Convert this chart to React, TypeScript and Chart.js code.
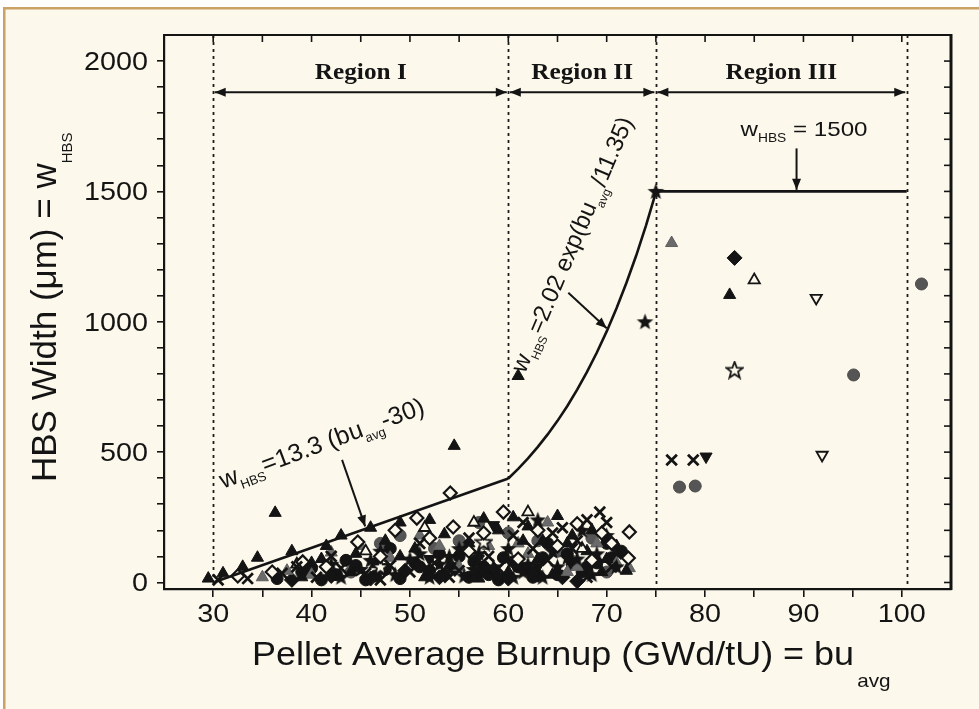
import React, { useEffect, useRef } from "react";
import { Chart, registerables } from "chart.js";
Chart.register(...registerables);

// ---------- axis ticks ----------
const xTickLabels = [30, 40, 50, 60, 70, 80, 90, 100];
const xMinorTicks = [30, 35, 40, 45, 50, 55, 60, 65, 70, 75, 80, 85, 90, 95, 100];
const yTickLabels = [0, 500, 1000, 1500, 2000];
const yMinorTicks = [0, 100, 200, 300, 400, 500, 600, 700, 800, 900, 1000, 1100, 1200, 1300, 1400, 1500, 1600, 1700, 1800, 1900, 2000];

// ---------- regions ----------
const regionBounds = [30, 60, 75, 100.5];
const regionNames = ["Region I", "Region II", "Region III"];

// ---------- model curve ----------
const linearModel: [number, number][] = [[30, 0], [60, 399]];
const expModel: [number, number][] = [
  [60, 399], [61, 436], [62, 476], [63, 520], [64, 568], [65, 620], [66, 677], [67, 740],
  [68, 808], [69, 882], [70, 963], [71, 1052], [72, 1149], [73, 1254], [74, 1370], [75, 1496],
];
const plateauModel: [number, number][] = [[75, 1500], [100.5, 1500]];

// ---------- measured data (several symbol families) ----------
const filledTriangles: [number, number][] = [
  [29.5, 15], [31, 35], [33, 60], [34.5, 95], [36.3, 267], [38, 120], [40, 75], [41.5, 140],
  [43, 180], [44.5, 110], [46, 210], [47.5, 160], [49, 230], [50.5, 130], [52, 240], [53.5, 185],
  [54.5, 524], [56, 150], [57.5, 245], [59, 200], [60.5, 250], [61, 792], [62, 215], [63.5, 160],
  [65, 255], [66.5, 180], [68, 120], [70, 90], [72, 45], [82.5, 1103],
  [39, 20], [41, 90], [44, 40], [46.5, 70], [49, 100], [51.5, 20], [54, 65], [57, 15],
  [60, 40], [61.5, 160], [63, 90], [64.5, 30], [66, 150], [68.5, 200], [69.5, 40], [71, 140],
];
const grayTriangles: [number, number][] = [
  [35, 20], [37.5, 45], [40, 30], [45, 140], [48, 95], [51, 180], [55, 60], [58, 140],
  [62, 110], [64, 230], [66, 40], [69, 150], [71, 75], [72.3, 55], [76.6, 1302],
  [42, 115], [53, 140], [61, 150], [67, 60],
];
const openDiamonds: [number, number][] = [
  [32.5, 25], [36, 40], [39.1, 79], [41.5, 60], [44.7, 155], [47, 100], [48.5, 200], [50.7, 247],
  [52, 170], [54.1, 343], [54.4, 213], [56, 120], [57.5, 190], [59.5, 270], [61, 90], [63, 200],
  [65, 140], [67, 225], [68.5, 85], [69.5, 190], [70.5, 150], [72.3, 194], [72.2, 94],
];
const filledDiamonds: [number, number][] = [
  [38, 10], [42, 25], [46, 15], [49.5, 45], [53, 20], [57, 35], [60, 15], [63, 30],
  [65.5, 20], [67, 5], [83, 1245],
];
const crosses: [number, number][] = [
  [30.5, 10], [33.5, 15], [37, 35], [40.5, 20], [43, 55], [45.5, 35], [48, 65], [50, 40],
  [52.5, 75], [55, 45], [57, 85], [59, 55], [61.5, 230], [62.5, 130], [64, 85], [65.5, 210],
  [67, 160], [68, 240], [69.3, 270], [70.5, 60], [76.6, 470], [78.8, 470],
  [38.5, 60], [42, 100], [47, 10], [51, 150], [54, 20], [56, 170], [58, 100], [60.5, 180],
  [62.5, 50], [64.5, 190], [66.5, 130], [68, 20], [70, 230], [71, 110],
];
const filledStars: [number, number][] = [
  [42, 70], [45, 50], [47, 120], [50, 90], [52, 20], [54, 100], [55.5, 25], [57, 110],
  [58.5, 60], [60, 130], [61.5, 40], [63, 240], [64.5, 120], [66, 95], [67.5, 200], [69, 110],
  [73.9, 1000], [75, 1500],
  [43, 20], [46, 85], [48.5, 30], [51, 110], [53, 70], [55, 130], [56.5, 50], [59, 30],
  [60.5, 20], [62, 70], [63.5, 20], [65, 60], [67, 90], [68.5, 30], [70, 180], [71, 60],
];
const filledCircles: [number, number][] = [
  [36.5, 15], [39, 40], [41, 10], [43.5, 85], [46.5, 25], [48, 130], [51, 60], [53, 110],
  [54.5, 55], [56.5, 80], [58, 30], [59.5, 95], [61, 60], [62.5, 20], [64, 150], [66.5, 70],
  [68, 60], [70, 150], [71.5, 120],
  [40, 55], [42.5, 30], [44.5, 65], [45.5, 10], [47.5, 50], [49, 15], [50.5, 75], [52, 45],
  [53.5, 30], [55, 100], [56, 20], [57.5, 60], [59, 10], [60.5, 80], [62, 50], [63.5, 95],
  [65, 30], [66, 110], [67.5, 40], [69, 75], [70.5, 95],
];
const grayCircles: [number, number][] = [
  [44, 40], [49, 180], [55, 160], [60, 190], [65, 120], [70, 40],
  [47, 150], [52.5, 130], [57, 230], [63, 160], [68.5, 170],
  [77.4, 366], [79, 370], [95.1, 796], [102, 1145],
];
const openTriangles: [number, number][] = [
  [38.5, 70], [45.5, 120], [51.5, 210], [56.5, 230], [62, 270], [67.5, 130], [85, 1160],
];
const openInvTriangles: [number, number][] = [[91.3, 1091], [91.9, 489]];
const filledInvTriangles: [number, number][] = [[52, 90], [58.5, 220], [63, 60], [80.1, 483]];
const openStars: [number, number][] = [[47, 60], [57.5, 155], [83, 815]];

// ---------- annotation anchors (data units) ----------
const arrowRowY = 1880;
const regionLabelY = 1931;
const linearLabelAt: [number, number] = [31.0, 360];
const linearArrow: [number, number, number, number] = [43.1, 470, 45.45, 215];
const expLabelAt: [number, number] = [61.7, 800];
const expArrow: [number, number, number, number] = [66.1, 1111, 70.0, 975];
const plateauLabelAt: [number, number] = [83.6, 1713];
const plateauArrow: [number, number, number, number] = [89.3, 1665, 89.3, 1506];

const CREAM = "#FCF9EC";
const INK = "#141414";
const SANS = '"Liberation Sans", Arial, sans-serif';
const SERIF = '"Liberation Serif", "Times New Roman", serif';

type Part = { t: string; size: number; dy?: number; weight?: string; family?: string };

function drawRich(ctx: CanvasRenderingContext2D, x: number, y: number, angle: number, parts: Part[], sx = 1, align: "left" | "center" | "right" = "left") {
  ctx.save();
  ctx.translate(x, y);
  ctx.rotate(angle);
  ctx.scale(sx, 1);
  ctx.textBaseline = "alphabetic";
  ctx.textAlign = "left";
  let total = 0;
  for (const p of parts) {
    ctx.font = `${p.weight || "normal"} ${p.size}px ${p.family || SANS}`;
    total += ctx.measureText(p.t).width;
  }
  let cx = align === "left" ? 0 : align === "center" ? -total / 2 : -total;
  for (const p of parts) {
    ctx.font = `${p.weight || "normal"} ${p.size}px ${p.family || SANS}`;
    ctx.fillText(p.t, cx, p.dy || 0);
    cx += ctx.measureText(p.t).width;
  }
  ctx.restore();
}

function arrowHead(ctx: CanvasRenderingContext2D, x1: number, y1: number, x2: number, y2: number, len = 11, w = 4.5) {
  const a = Math.atan2(y2 - y1, x2 - x1);
  ctx.beginPath();
  ctx.moveTo(x2, y2);
  ctx.lineTo(x2 - len * Math.cos(a) + w * Math.sin(a), y2 - len * Math.sin(a) - w * Math.cos(a));
  ctx.lineTo(x2 - len * Math.cos(a) - w * Math.sin(a), y2 - len * Math.sin(a) + w * Math.cos(a));
  ctx.closePath();
  ctx.fill();
}

function arrow(ctx: CanvasRenderingContext2D, x1: number, y1: number, x2: number, y2: number, both = false) {
  ctx.beginPath();
  ctx.moveTo(x1, y1);
  ctx.lineTo(x2, y2);
  ctx.stroke();
  arrowHead(ctx, x1, y1, x2, y2);
  if (both) arrowHead(ctx, x2, y2, x1, y1);
}

function makeStar(filled: boolean, color: string, size = 18): HTMLCanvasElement {
  const c = document.createElement("canvas");
  c.width = size;
  c.height = size;
  const g = c.getContext("2d")!;
  const R = size * 0.46;
  const r = R * 0.42;
  g.beginPath();
  for (let i = 0; i < 10; i++) {
    const ang = -Math.PI / 2 + (i * Math.PI) / 5;
    const rad = i % 2 ? r : R;
    const px = size / 2 + rad * Math.cos(ang);
    const py = size / 2 + 0.5 + rad * Math.sin(ang);
    if (i === 0) g.moveTo(px, py);
    else g.lineTo(px, py);
  }
  g.closePath();
  if (filled) {
    g.fillStyle = color;
    g.fill();
  } else {
    g.fillStyle = CREAM;
    g.fill();
    g.strokeStyle = color;
    g.lineWidth = 1.8;
    g.stroke();
  }
  return c;
}

const toXY = (pts: [number, number][]) => pts.map(([x, y]) => ({ x, y }));

const decorPlugin = {
  id: "decor",
  beforeDraw(chart: any) {
    const ctx: CanvasRenderingContext2D = chart.ctx;
    const W = chart.width, H = chart.height;
    ctx.save();
    ctx.fillStyle = "#FFFFFF";
    ctx.fillRect(0, 0, W, H);
    ctx.fillStyle = CREAM;
    ctx.fillRect(5, 9, W - 5, H - 9);
    ctx.fillStyle = "#C9A264";
    ctx.fillRect(3, 7, W - 3, 2.5);
    ctx.fillRect(3, 7, 2.5, H - 7);
    ctx.restore();
  },
  beforeDatasetsDraw(chart: any) {
    const ctx: CanvasRenderingContext2D = chart.ctx;
    const xs = chart.scales.x;
    const { top, bottom } = chart.chartArea;
    ctx.save();
    ctx.strokeStyle = "#1c1c1c";
    ctx.lineWidth = 1.8;
    ctx.setLineDash([3, 4]);
    for (const b of regionBounds) {
      const px = Math.round(xs.getPixelForValue(b)) + 0.5;
      ctx.beginPath();
      ctx.moveTo(px, top);
      ctx.lineTo(px, bottom);
      ctx.stroke();
    }
    ctx.restore();
  },
  afterDatasetsDraw(chart: any) {
    const ctx: CanvasRenderingContext2D = chart.ctx;
    const xs = chart.scales.x, ys = chart.scales.y;
    const { left, right, top, bottom } = chart.chartArea;
    const X = (v: number) => xs.getPixelForValue(v);
    const Y = (v: number) => ys.getPixelForValue(v);
    ctx.save();
    ctx.strokeStyle = INK;
    ctx.fillStyle = INK;

    // frame top and right with inward ticks
    ctx.lineWidth = 2.2;
    ctx.beginPath();
    ctx.moveTo(left - 1, top);
    ctx.lineTo(right, top);
    ctx.stroke();
    ctx.lineWidth = 3;
    ctx.beginPath();
    ctx.moveTo(right, top - 1);
    ctx.lineTo(right, bottom + 1);
    ctx.stroke();
    ctx.lineWidth = 1.6;
    for (const v of xMinorTicks) {
      const px = X(v);
      ctx.beginPath();
      ctx.moveTo(px, top);
      ctx.lineTo(px, top + 7);
      ctx.stroke();
    }
    for (const v of yMinorTicks) {
      const py = Y(v);
      ctx.beginPath();
      ctx.moveTo(right, py);
      ctx.lineTo(right - 7, py);
      ctx.stroke();
    }

    // region arrows + labels
    ctx.lineWidth = 2;
    const ay = Y(arrowRowY);
    for (let i = 0; i < regionNames.length; i++) {
      const a = X(regionBounds[i]) + 1.5, b = X(regionBounds[i + 1]) - 1.5;
      arrow(ctx, a, ay, b, ay, true);
      drawRich(ctx, (X(regionBounds[i]) + X(regionBounds[i + 1])) / 2, Y(regionLabelY), 0,
        [{ t: regionNames[i], size: 23, weight: "bold", family: SERIF }], 1.1, "center");
    }

    // formula annotations
    ctx.lineWidth = 2;
    arrow(ctx, X(linearArrow[0]), Y(linearArrow[1]), X(linearArrow[2]), Y(linearArrow[3]));
    arrow(ctx, X(expArrow[0]), Y(expArrow[1]), X(expArrow[2]), Y(expArrow[3]));
    arrow(ctx, X(plateauArrow[0]), Y(plateauArrow[1]), X(plateauArrow[2]), Y(plateauArrow[3]));

    drawRich(ctx, X(linearLabelAt[0]), Y(linearLabelAt[1]), (-20.4 * Math.PI) / 180, [
      { t: "w", size: 25 }, { t: "HBS", size: 13, dy: 7 }, { t: "=13.3 (bu", size: 25 },
      { t: "avg", size: 13, dy: 7 }, { t: "-30)", size: 25 },
    ]);
    drawRich(ctx, X(expLabelAt[0]), Y(expLabelAt[1]), (-66.8 * Math.PI) / 180, [
      { t: "w", size: 24 }, { t: "HBS", size: 12, dy: 7 }, { t: "=2.02 exp(bu", size: 24 },
      { t: "avg", size: 12, dy: 7 }, { t: "/11.35)", size: 24 },
    ]);
    drawRich(ctx, X(plateauLabelAt[0]), Y(plateauLabelAt[1]), 0, [
      { t: "w", size: 21 }, { t: "HBS", size: 12, dy: 6 }, { t: " = 1500", size: 21 },
    ], 1.15);

    // tick labels
    for (const v of yTickLabels) {
      drawRich(ctx, left - 16, Y(v) + 9, 0, [{ t: String(v), size: 25 }], 1.15, "right");
    }
    for (const v of xTickLabels) {
      drawRich(ctx, X(v), bottom + 33, 0, [{ t: String(v), size: 25 }], 1.15, "center");
    }

    // axis titles
    drawRich(ctx, 56, 482, -Math.PI / 2, [
      { t: "HBS Width (\u03bcm) = w", size: 35 }, { t: "HBS", size: 15, dy: 16 },
    ], 1, "left");
    drawRich(ctx, 252, bottom + 76, 0, [
      { t: "Pellet Average Burnup (GWd/tU) = bu", size: 33 }, { t: " ", size: 10 }, { t: "avg", size: 19, dy: 22 },
    ], 1.09, "left");
    ctx.restore();
  },
};

export default function App() {
  const ref = useRef<HTMLCanvasElement | null>(null);
  useEffect(() => {
    document.body.style.margin = "0";
    const canvas = ref.current!;
    const starFilled = makeStar(true, INK, 19);
    const starOpen = makeStar(false, INK, 19);
    const lineStyle = {
      showLine: true, pointRadius: 0, borderColor: INK, borderWidth: 2.6, tension: 0, fill: false,
    };
    const datasets: any[] = [
      { label: "linear", data: toXY(linearModel), ...lineStyle },
      { label: "exp", data: toXY(expModel), ...lineStyle },
      { label: "plateau", data: toXY(plateauModel), ...lineStyle },
      { label: "crosses", data: toXY(crosses), pointStyle: "crossRot", pointRadius: 7.5, borderColor: INK, borderWidth: 2.8, backgroundColor: INK },
      { label: "openDiamonds", data: toXY(openDiamonds), pointStyle: "rectRot", pointRadius: 6.5, borderColor: INK, borderWidth: 2.2, backgroundColor: CREAM },
      { label: "openTriangles", data: toXY(openTriangles), pointStyle: "triangle", pointRadius: 6.5, borderColor: INK, borderWidth: 1.8, backgroundColor: CREAM },
      { label: "openInvTriangles", data: toXY(openInvTriangles), pointStyle: "triangle", rotation: 180, pointRadius: 6.5, borderColor: INK, borderWidth: 1.8, backgroundColor: CREAM },
      { label: "openStars", data: toXY(openStars), pointStyle: starOpen },
      { label: "filledStars", data: toXY(filledStars), pointStyle: starFilled },
      { label: "filledTriangles", data: toXY(filledTriangles), pointStyle: "triangle", pointRadius: 7, borderColor: INK, borderWidth: 1, backgroundColor: INK },
      { label: "filledInvTriangles", data: toXY(filledInvTriangles), pointStyle: "triangle", rotation: 180, pointRadius: 7, borderColor: INK, borderWidth: 1, backgroundColor: INK },
      { label: "grayTriangles", data: toXY(grayTriangles), pointStyle: "triangle", pointRadius: 7, borderColor: "#5e5e5e", borderWidth: 1, backgroundColor: "#6a6a6a" },
      { label: "filledDiamonds", data: toXY(filledDiamonds), pointStyle: "rectRot", pointRadius: 7.5, borderColor: INK, borderWidth: 1, backgroundColor: INK },
      { label: "filledCircles", data: toXY(filledCircles), pointStyle: "circle", pointRadius: 6, borderColor: INK, borderWidth: 1, backgroundColor: INK },
      { label: "grayCircles", data: toXY(grayCircles), pointStyle: "circle", pointRadius: 6, borderColor: "#4a4a4a", borderWidth: 1, backgroundColor: "#555555" },
    ];
    const chart = new Chart(canvas, {
      type: "scatter",
      data: { datasets },
      plugins: [decorPlugin],
      options: {
        responsive: false,
        animation: false,
        devicePixelRatio: 1,
        events: [],
        layout: { padding: { left: 0, top: 35, right: 28, bottom: 0 } },
        plugins: { legend: { display: false }, tooltip: { enabled: false } },
        scales: {
          x: {
            type: "linear", min: 25, max: 105,
            afterFit: (s: any) => { s.height = 120; },
            afterBuildTicks: (s: any) => { s.ticks = xMinorTicks.map((v) => ({ value: v })); },
            ticks: { display: false },
            grid: { drawOnChartArea: false, drawTicks: true, tickLength: 8, color: INK, lineWidth: 1.6 },
            border: { display: true, color: INK, width: 2.2 },
          },
          y: {
            type: "linear", min: -25, max: 2100,
            afterFit: (s: any) => { s.width = 164; },
            afterBuildTicks: (s: any) => { s.ticks = yMinorTicks.map((v) => ({ value: v })); },
            ticks: { display: false },
            grid: { drawOnChartArea: false, drawTicks: true, tickLength: 7, color: INK, lineWidth: 1.6 },
            border: { display: true, color: INK, width: 2.2 },
          },
        },
      } as any,
    });
    return () => chart.destroy();
  }, []);
  return (
    <div style={{ position: "absolute", left: 0, top: 0, width: 979, height: 709 }}>
      <canvas ref={ref} width={979} height={709} style={{ display: "block", width: 979, height: 709 }} />
    </div>
  );
}
